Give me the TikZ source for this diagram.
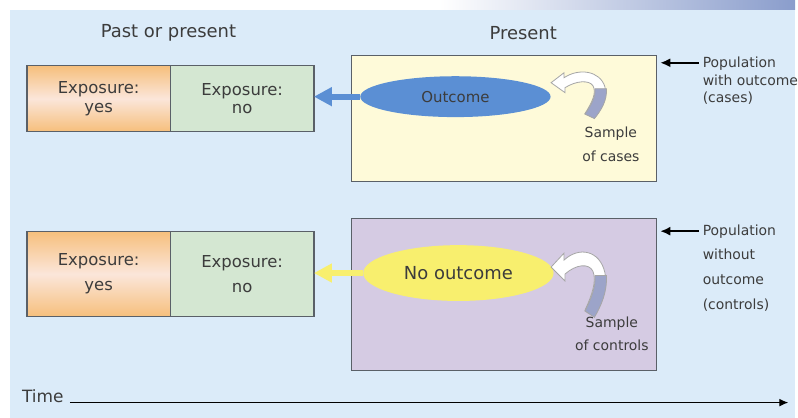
\documentclass[tikz,border=0pt]{standalone}
\usepackage{fontspec}
\setmainfont{DejaVu Sans}
\usetikzlibrary{arrows.meta, positioning, shapes.geometric}
\definecolor{ccsky}{HTML}{DBEBF9}
\definecolor{ccband}{HTML}{8A9DCC}
\definecolor{ccorange}{HTML}{F6BF7C}
\definecolor{ccpeach}{HTML}{FBE6DA}
\definecolor{ccgreen}{HTML}{D4E7D2}
\definecolor{ccline}{HTML}{5A6068}
\definecolor{cccream}{HTML}{FEFAD9}
\definecolor{cclilac}{HTML}{D5CBE3}
\definecolor{ccblue}{HTML}{5B8FD4}
\definecolor{ccyellow}{HTML}{F8EF6E}
\definecolor{cctail}{HTML}{9CA4C9}
\definecolor{cctext}{HTML}{3C3C3C}

\begin{document}
\begin{tikzpicture}[x=1pt, y=-1pt, text=cctext, font=\fontsize{16.5}{19}\selectfont,
      expo/.style={draw=ccline, line width=1.2pt, outer sep=0pt, inner sep=0pt, minimum width=144pt, align=center},
      yesbox/.style={expo, top color=ccorange, bottom color=ccorange, middle color=ccpeach},
      nobox/.style={expo, fill=ccgreen},
      popbox/.style={draw=ccline, line width=1.2pt, minimum width=306pt},
      ell/.style={ellipse, inner sep=0pt, minimum width=191pt},
      fat/.style={line width=6pt, -{Triangle[length=18pt, width=18pt]}},
      pop/.style={font=\fontsize{14}{17.5}\selectfont, align=left, anchor=north west, inner sep=0pt},
      smp/.style={font=\fontsize{14}{24}\selectfont, align=center},
      popline/.style={line width=1.8pt, -{Latex[length=10pt, width=9pt]}, shorten >=3pt},
      sarrow/.pic={
        \fill[white, draw=gray!70, line width=0.8pt] (0,0) -- (13,-10) -- (13,-5) .. controls (28,-15) and (49,-12) .. (54,4)
          .. controls (57,15) and (49,28) .. (43,35) -- (34,31) .. controls (41,20) and (46,10) .. (42,3)
          .. controls (38,-3) and (25,-2) .. (14,5) -- (14,10) -- cycle;
        \fill[cctail, draw=gray!70, line width=0.8pt] (55.5,6) .. controls (56.5,18) and (50,28) .. (43.5,36) -- (34,31.5)
          .. controls (40,23) and (45,14) .. (44,6) -- cycle;}]

      \fill[white] (0,0) rectangle (798,419);
      \fill[ccsky] (10,10) rectangle (798,419);
      \shade[left color=white, right color=ccband] (440,0) rectangle (798,10);

      \node[font=\fontsize{18}{18}\selectfont] (past) at (169,33) {Past or present};
      \node[font=\fontsize{18}{18}\selectfont] (pres) at (525,33) {Present};

      \node[yesbox, minimum height=66pt] (yesA) at (99,99) {Exposure:\\yes};
      \node[nobox, minimum height=66pt, right=0pt of yesA] (noA) {Exposure:\\no};
      \node[yesbox, minimum height=86pt, font=\fontsize{16.5}{25}\selectfont] (yesB) at (99,275) {Exposure:\\yes};
      \node[nobox, minimum height=86pt, font=\fontsize{16.5}{25}\selectfont, right=0pt of yesB] (noB) {Exposure:\\no};

      \node[popbox, fill=cccream, minimum height=126pt] (cases) at (506,119) {};
      \node[popbox, fill=cclilac, minimum height=153pt] (ctrls) at (506,295.5) {};

      \node[ell, fill=ccblue, minimum height=41pt, font=\fontsize{15}{15}\selectfont] (outc) at (457,97) {Outcome};
      \node[ell, fill=ccyellow, minimum height=56pt, font=\fontsize{18}{18}\selectfont] (nooutc) at (460,274) {No outcome};

      \draw[fat, ccblue] (outc.west) -- (outc.west -| noA.east);
      \draw[fat, ccyellow] (nooutc.west) -- (nooutc.west -| noB.east);

      \pic at (553,83) {sarrow};
      \pic[yscale=1.4] at (553,268) {sarrow};
      \node[smp] (smpA) at (613,145) {Sample\\of cases};
      \node[smp] (smpB) at (614,335) {Sample\\of controls};

      \node[pop] (popA) at (705,57) {Population\\with outcome\\(cases)};
      \node[pop, font=\fontsize{14}{25}\selectfont] (popB) at (705,225) {Population\\without\\outcome\\(controls)};
      \coordinate (pA) at (701,63);
      \coordinate (pB) at (701,232);
      \draw[popline] (pA) -- (pA -| cases.east);
      \draw[popline] (pB) -- (pB -| ctrls.east);

      \node[font=\fontsize{17}{17}\selectfont, anchor=base west, inner sep=0pt] (time) at (22,404) {Time};
      \coordinate (tEnd) at (791,403);
      \draw[line width=1.2pt, -{Latex[length=9pt, width=8pt]}] ([xshift=6pt]time.base east) -- (tEnd |- time.base);
    \end{tikzpicture}
\end{document}
